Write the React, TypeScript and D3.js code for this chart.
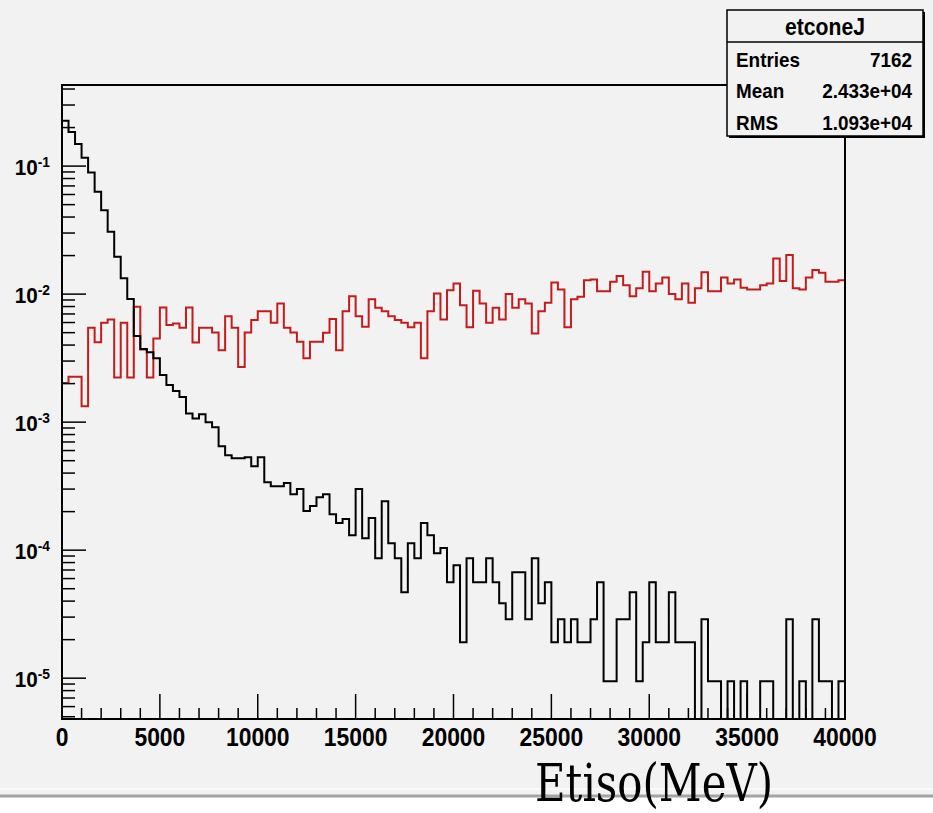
import React from 'react';
import * as d3 from 'd3';

// axis ranges
const xDomain = [0, 40000];
const yDomain = [4.8e-6, 0.43];
const xTickLabels = [0, 5000, 10000, 15000, 20000, 25000, 30000, 35000, 40000];
const yTickExps = [-5, -4, -3, -2, -1];

// 120 bins of 333.3 MeV, normalised contents (0 = empty bin)
const blackBins = [
  0.226, 0.185, 0.149, 0.116, 0.0893, 0.063, 0.0453, 0.0307, 0.0196, 0.0133,
  0.00914, 0.0047, 0.00372, 0.00352, 0.00316, 0.00233, 0.00195, 0.00175, 0.00157, 0.00117,
  0.00107, 0.00115, 0.001, 0.000914, 0.000649, 0.000552, 0.000523, 0.000523, 0.000533, 0.000453,
  0.000533, 0.00034, 0.000316, 0.000316, 0.000334, 0.000274, 0.0003, 0.000202, 0.000221, 0.000259,
  0.000274, 0.000191, 0.000163, 0.000175, 0.000131, 0.0003, 0.000124, 0.000178, 8.66e-5, 0.000241,
  0.000113, 8.66e-5, 4.7e-5, 0.000113, 8.66e-5, 0.000163, 0.000131, 9.48e-5, 0.000104, 5.62e-5,
  7.64e-5, 1.91e-5, 8.66e-5, 5.62e-5, 5.62e-5, 8.66e-5, 5.62e-5, 3.85e-5, 2.89e-5, 6.73e-5,
  6.73e-5, 2.89e-5, 8.66e-5, 3.85e-5, 5.62e-5, 1.91e-5, 2.89e-5, 1.91e-5, 2.89e-5, 1.91e-5,
  1.91e-5, 2.89e-5, 5.62e-5, 9.48e-6, 9.48e-6, 2.89e-5, 2.89e-5, 4.7e-5, 9.48e-6, 1.91e-5,
  5.62e-5, 1.91e-5, 1.91e-5, 4.7e-5, 1.91e-5, 1.91e-5, 1.91e-5, 0, 2.89e-5, 9.48e-6,
  9.48e-6, 0, 9.48e-6, 0, 9.48e-6, 0, 0, 9.48e-6, 9.48e-6, 0,
  0, 2.89e-5, 0, 9.48e-6, 0, 2.89e-5, 9.48e-6, 9.48e-6, 0, 9.48e-6,
];

const redBins = [
  0.00202, 0.00226, 0.00226, 0.00133, 0.00546, 0.0042, 0.00597, 0.00634, 0.00223, 0.00597,
  0.00223, 0.00796, 0.0037, 0.00223, 0.00451, 0.00787, 0.00573, 0.0059, 0.00546, 0.00787,
  0.00418, 0.00546, 0.00546, 0.00502, 0.00365, 0.00673, 0.00546, 0.0027, 0.00502, 0.00627,
  0.00736, 0.00736, 0.00597, 0.00846, 0.00546, 0.00502, 0.00424, 0.00315, 0.00424, 0.00424,
  0.005, 0.00638, 0.00365, 0.00736, 0.00964, 0.00673, 0.00556, 0.0091, 0.00781, 0.00736,
  0.00673, 0.00627, 0.00597, 0.0055, 0.00597, 0.00315, 0.00736, 0.0101, 0.00634, 0.01074,
  0.01213, 0.0082, 0.0055, 0.01061, 0.00846, 0.00597, 0.00781, 0.00634, 0.01, 0.00781,
  0.0091, 0.00846, 0.00493, 0.00736, 0.00855, 0.01234, 0.01088, 0.0055, 0.0091, 0.00953,
  0.01285, 0.01302, 0.01055, 0.01055, 0.01247, 0.01384, 0.01175, 0.00964, 0.01109, 0.01494,
  0.01055, 0.01213, 0.01349, 0.01, 0.0091, 0.01213, 0.00855, 0.01109, 0.01479, 0.01055,
  0.01055, 0.01349, 0.01213, 0.01302, 0.0112, 0.01088, 0.01088, 0.01175, 0.01213, 0.01901,
  0.01265, 0.02018, 0.01109, 0.01088, 0.01349, 0.0154, 0.01466, 0.01247, 0.01247, 0.01285,
];

const statsTitle = 'etconeJ';
const statsLabels = ['Entries', 'Mean', 'RMS'];
const statsValues = ['7162', '2.433e+04', '1.093e+04'];
const xTitle = 'Etiso(MeV)';

const W = 933;
const H = 813;
const frame = { left: 62, right: 845, top: 85, bottom: 719 };
const font = "'Liberation Sans', Arial, Helvetica, sans-serif";

const App = () => {
  const x = d3.scaleLinear().domain(xDomain).range([frame.left, frame.right]);
  const y = d3.scaleLog().domain(yDomain).range([frame.bottom, frame.top]);

  // step outline like ROOT's HIST option
  const histPath = (bins: number[]) => {
    const n = bins.length;
    const w = (xDomain[1] - xDomain[0]) / n;
    const pts: [number, number][] = [[xDomain[0], yDomain[0]]];
    bins.forEach((v, i) => pts.push([xDomain[0] + i * w, v]));
    pts.push([xDomain[1], bins[n - 1]]);
    pts.push([xDomain[1], yDomain[0]]);
    return d3.line<[number, number]>()
      .x(d => x(d[0]))
      .y(d => y(Math.max(d[1], yDomain[0])))
      .curve(d3.curveStepAfter)(pts) as string;
  };

  const xMinor = d3.range(xDomain[0], xDomain[1] + 1, 1000);
  const yMinor: number[] = [];
  for (let e = -6; e <= 0; e++) {
    for (let k = 2; k <= 9; k++) {
      const v = k * Math.pow(10, e);
      if (v >= yDomain[0] && v <= yDomain[1]) yMinor.push(v);
    }
  }

  const box = { x: 727, y: 10, w: 196, h: 126, div: 42 };

  return (
    <svg width={W} height={H} style={{ position: 'absolute', left: 0, top: 0, display: 'block' }}>
      <rect x={0} y={0} width={W} height={H} fill="#ffffff" />
      <rect x={0} y={0} width={W} height={796} fill="#f2f2f2" />
      <line x1={0} x2={W} y1={789} y2={789} stroke="#fafafa" strokeWidth={2} />
      <line x1={0} x2={W} y1={796} y2={796} stroke="#a3a3a3" strokeWidth={3} />

      <defs>
        <clipPath id="frameClip">
          <rect x={frame.left} y={frame.top} width={frame.right - frame.left} height={frame.bottom - frame.top} />
        </clipPath>
      </defs>

      <g clipPath="url(#frameClip)" fill="none" strokeLinejoin="miter">
        <path d={histPath(redBins)} stroke="#c41c1c" strokeWidth={2} />
        <path d={histPath(blackBins)} stroke="#000" strokeWidth={2} />
      </g>

      {/* frame */}
      <rect x={frame.left} y={frame.top} width={frame.right - frame.left} height={frame.bottom - frame.top}
        fill="none" stroke="#000" strokeWidth={2} />

      {/* x ticks */}
      {xMinor.map(v => (
        <line key={'xt' + v} x1={x(v)} x2={x(v)} y1={frame.bottom}
          y2={frame.bottom - (v % 5000 === 0 ? 25 : 11)} stroke="#000" strokeWidth={1.5} />
      ))}
      {xTickLabels.map(v => (
        <text key={'xl' + v} transform={`translate(${x(v)},746) scale(0.88,1)`} textAnchor="middle"
          fontFamily={font} fontWeight="bold" fontSize={26}>{v}</text>
      ))}

      {/* y ticks */}
      {yMinor.map(v => (
        <line key={'ym' + v} x1={frame.left} x2={frame.left + 13} y1={y(v)} y2={y(v)} stroke="#000" strokeWidth={1.5} />
      ))}
      {yTickExps.map(e => (
        <g key={'ye' + e}>
          <line x1={frame.left} x2={frame.left + 24} y1={y(Math.pow(10, e))} y2={y(Math.pow(10, e))}
            stroke="#000" strokeWidth={1.5} />
          <text transform={`translate(50,${y(Math.pow(10, e)) + 8.5}) scale(0.92,1)`} textAnchor="end"
            fontFamily={font} fontWeight="bold" fontSize={22.5}>
            10<tspan dy={-8} fontSize={15}>{e}</tspan>
          </text>
        </g>
      ))}

      {/* stats box */}
      <rect x={box.x + 2} y={box.y + 2} width={box.w} height={box.h} fill="#000" />
      <rect x={box.x} y={box.y} width={box.w} height={box.h} fill="#f2f2f2" stroke="#000" strokeWidth={1.5} />
      <line x1={box.x} x2={box.x + box.w} y1={box.div} y2={box.div} stroke="#000" strokeWidth={1.5} />
      <text transform={`translate(${box.x + box.w / 2},35) scale(0.92,1)`} textAnchor="middle"
        fontFamily={font} fontWeight="bold" fontSize={23}>{statsTitle}</text>
      {statsLabels.map((lab, i) => (
        <g key={lab} fontFamily={font} fontWeight="bold" fontSize={21}>
          <text transform={`translate(${box.x + 9},${66.5 + i * 31.5}) scale(0.9,1)`}>{lab}</text>
          <text transform={`translate(${box.x + box.w - 11},${66.5 + i * 31.5}) scale(0.9,1)`}
            textAnchor="end">{statsValues[i]}</text>
        </g>
      ))}

      <text x={535} y={801} fontFamily="'DejaVu Serif Condensed', 'DejaVu Serif', serif" fontSize={53}
        textLength={238} lengthAdjust="spacingAndGlyphs">{xTitle}</text>
    </svg>
  );
};

export default App;
